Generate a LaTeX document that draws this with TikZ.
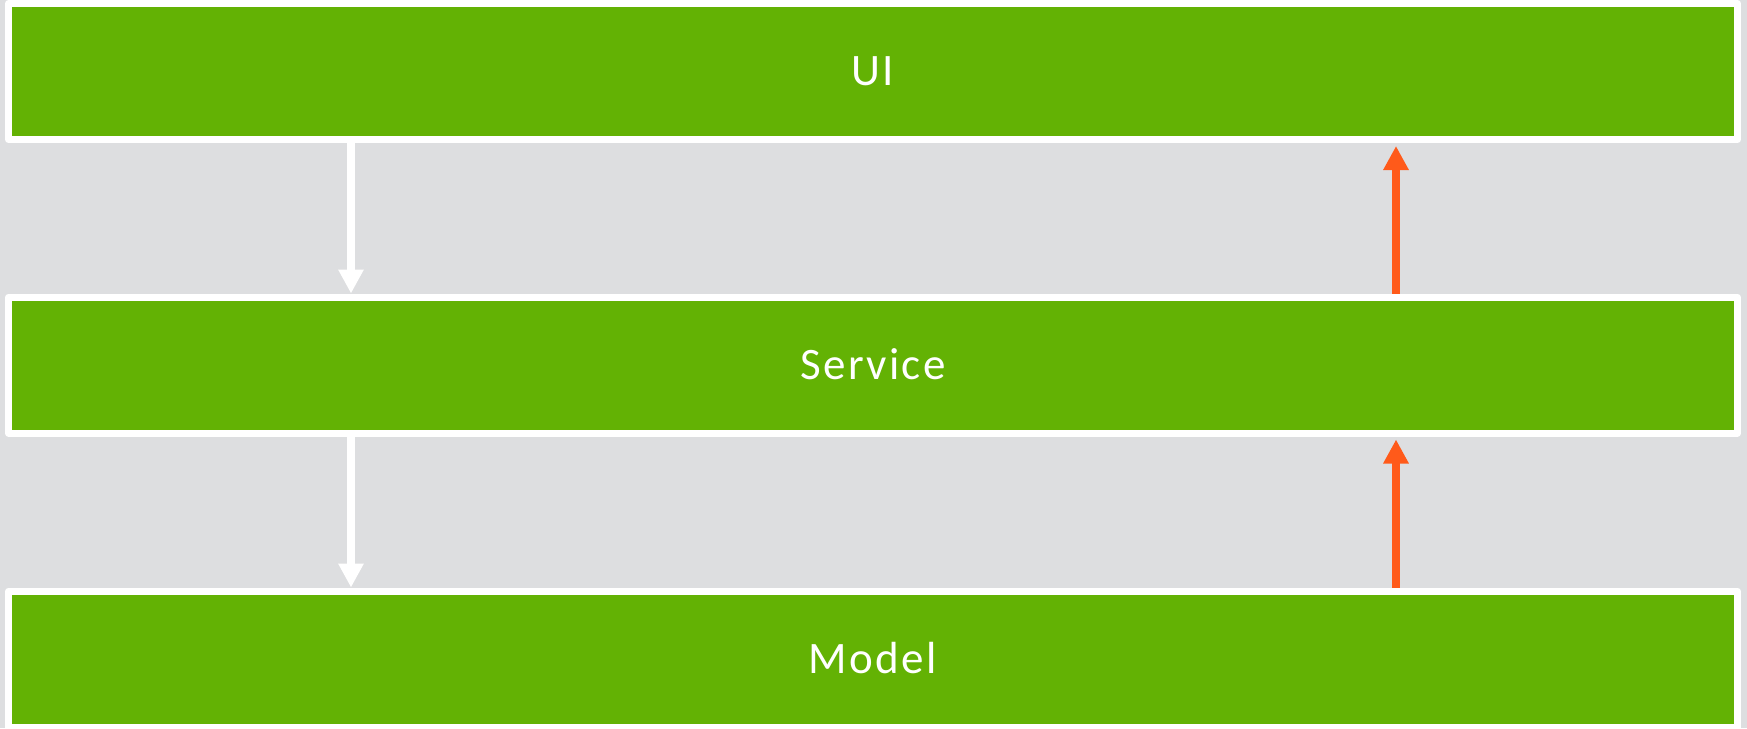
\documentclass[tikz,border=0pt]{standalone}
\usepackage{fontspec}
\setmainfont{Carlito}[LetterSpace=5.3]
\usetikzlibrary{arrows.meta}
\definecolor{bggray}{HTML}{DDDEE0}
\definecolor{layergreen}{HTML}{63B204}
\definecolor{uporange}{HTML}{FF5A1A}
\tikzset{
  layer/.style={draw=white, fill=layergreen, line width=7pt, line join=round,
    minimum width=1729pt, minimum height=136pt, inner sep=0pt,
    text=white, font=\fontsize{45}{54}\selectfont, text height=28.5pt, text depth=0pt},
  downarrow/.style={draw=white, line width=8pt, -{Triangle[width=24pt,length=24pt]}},
  uparrow/.style={draw=uporange, line width=8pt, -{Triangle[width=24pt,length=24pt]}, shorten >=3pt}
}
\begin{document}
\begin{tikzpicture}[x=1pt,y=1pt]
\fill[bggray] (0,0) rectangle (1747,-728);
\useasboundingbox (0,0) rectangle (1747,-728);
\node[layer] (ui) at (873,-71.5) {UI};
\node[layer] (service) at (873,-365) {Service};
\node[layer] (model) at (873,-659) {Model};
\draw[downarrow] (ui.south -| 351,0) -- (service.north -| 351,0);
\draw[downarrow] (service.south -| 351,0) -- (model.north -| 351,0);
\draw[uparrow] (service.north -| 1396,0) -- (ui.south -| 1396,0);
\draw[uparrow] (model.north -| 1396,0) -- (service.south -| 1396,0);
\end{tikzpicture}
\end{document}
